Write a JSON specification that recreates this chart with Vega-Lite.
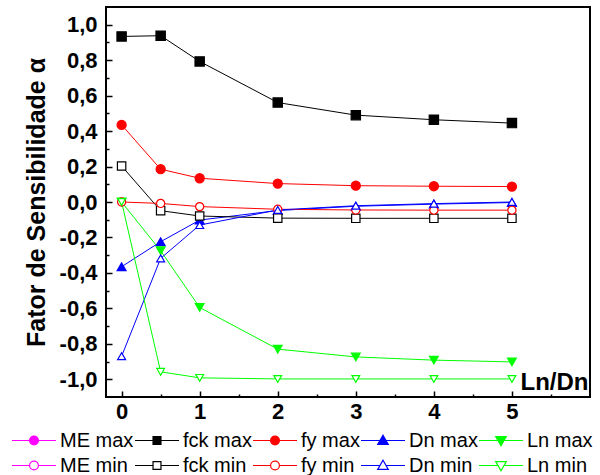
{
  "$schema": "https://vega.github.io/schema/vega-lite/v6.json",
  "width": 484,
  "height": 390,
  "autosize": "none",
  "padding": {"left": 106, "top": 7, "right": 10, "bottom": 78},
  "config": {
    "view": {"stroke": "black", "strokeWidth": 2},
    "font": "Liberation Sans"
  },
  "data": {
    "values": [
      {"x": 0, "y": 0.934, "series": "fck max"},
      {"x": 0.5, "y": 0.938, "series": "fck max"},
      {"x": 1, "y": 0.793, "series": "fck max"},
      {"x": 2, "y": 0.561, "series": "fck max"},
      {"x": 3, "y": 0.49, "series": "fck max"},
      {"x": 4, "y": 0.464, "series": "fck max"},
      {"x": 5, "y": 0.445, "series": "fck max"},
      {"x": 0, "y": 0.435, "series": "fy max"},
      {"x": 0.5, "y": 0.185, "series": "fy max"},
      {"x": 1, "y": 0.134, "series": "fy max"},
      {"x": 2, "y": 0.104, "series": "fy max"},
      {"x": 3, "y": 0.092, "series": "fy max"},
      {"x": 4, "y": 0.089, "series": "fy max"},
      {"x": 5, "y": 0.087, "series": "fy max"},
      {"x": 0, "y": -0.365, "series": "Dn max"},
      {"x": 0.5, "y": -0.224, "series": "Dn max"},
      {"x": 1, "y": -0.102, "series": "Dn max"},
      {"x": 2, "y": -0.048, "series": "Dn max"},
      {"x": 3, "y": -0.024, "series": "Dn max"},
      {"x": 4, "y": -0.012, "series": "Dn max"},
      {"x": 5, "y": -0.003, "series": "Dn max"},
      {"x": 0, "y": 0.0, "series": "Ln max"},
      {"x": 0.5, "y": -0.275, "series": "Ln max"},
      {"x": 1, "y": -0.595, "series": "Ln max"},
      {"x": 2, "y": -0.83, "series": "Ln max"},
      {"x": 3, "y": -0.874, "series": "Ln max"},
      {"x": 4, "y": -0.892, "series": "Ln max"},
      {"x": 5, "y": -0.902, "series": "Ln max"},
      {"x": 0, "y": 0.203, "series": "fck min"},
      {"x": 0.5, "y": -0.049, "series": "fck min"},
      {"x": 1, "y": -0.079, "series": "fck min"},
      {"x": 2, "y": -0.091, "series": "fck min"},
      {"x": 3, "y": -0.092, "series": "fck min"},
      {"x": 4, "y": -0.092, "series": "fck min"},
      {"x": 5, "y": -0.092, "series": "fck min"},
      {"x": 0, "y": 0.0, "series": "fy min"},
      {"x": 0.5, "y": -0.008, "series": "fy min"},
      {"x": 1, "y": -0.026, "series": "fy min"},
      {"x": 2, "y": -0.041, "series": "fy min"},
      {"x": 3, "y": -0.045, "series": "fy min"},
      {"x": 4, "y": -0.046, "series": "fy min"},
      {"x": 5, "y": -0.046, "series": "fy min"},
      {"x": 0, "y": -0.87, "series": "Dn min"},
      {"x": 0.5, "y": -0.318, "series": "Dn min"},
      {"x": 1, "y": -0.13, "series": "Dn min"},
      {"x": 2, "y": -0.045, "series": "Dn min"},
      {"x": 3, "y": -0.021, "series": "Dn min"},
      {"x": 4, "y": -0.009, "series": "Dn min"},
      {"x": 5, "y": 0.0, "series": "Dn min"},
      {"x": 0, "y": 0.0, "series": "Ln min"},
      {"x": 0.5, "y": -0.958, "series": "Ln min"},
      {"x": 1, "y": -0.992, "series": "Ln min"},
      {"x": 2, "y": -0.998, "series": "Ln min"},
      {"x": 3, "y": -0.998, "series": "Ln min"},
      {"x": 4, "y": -0.998, "series": "Ln min"},
      {"x": 5, "y": -0.998, "series": "Ln min"}
    ]
  },
  "resolve": {
    "axis": {"x": "independent", "y": "independent"},
    "scale": {"shape": "independent"},
    "legend": {"color": "independent", "fill": "independent", "shape": "independent"}
  },
  "layer": [
    {
      "mark": {"type": "line", "strokeWidth": 1},
      "encoding": {
        "x": {
          "field": "x", "type": "quantitative",
          "scale": {"domain": [-0.2, 6], "nice": false, "zero": false},
          "axis": {
            "orient": "bottom",
            "values": [0, 1, 2, 3, 4, 5],
            "format": "d",
            "tickSize": 6, "offset": -6,
            "tickColor": "black", "tickWidth": 1.5,
            "labelPadding": 4,
            "domain": false, "grid": false,
            "labelFont": "Liberation Sans", "labelFontSize": 22, "labelFontWeight": "bold", "labelColor": "black",
            "labelFlush": false, "labelOverlap": false,
            "title": "Ln/Dn",
            "titleFont": "Liberation Sans", "titleFontSize": 24, "titleFontWeight": "bold", "titleColor": "black",
            "titleX": 482, "titleY": -2, "titleAlign": "right", "titleBaseline": "alphabetic"
          }
        },
        "y": {
          "field": "y", "type": "quantitative",
          "scale": {"domain": [-1.1, 1.1], "nice": false, "zero": false},
          "axis": {
            "orient": "left",
            "values": [-1, -0.8, -0.6, -0.4, -0.2, 0, 0.2, 0.4, 0.6, 0.8, 1],
            "labelExpr": "replace(replace(format(datum.value, '.1f'), '.', ','), '\u2212', '-')",
            "tickSize": 6, "offset": -6,
            "tickColor": "black", "tickWidth": 1.5,
            "labelPadding": 9,
            "domain": false, "grid": false,
            "labelFont": "Liberation Sans", "labelFontSize": 22, "labelFontWeight": "bold", "labelColor": "black",
            "labelFlush": false, "labelOverlap": false,
            "title": "Fator de Sensibilidade α",
            "titleFont": "Liberation Sans", "titleFontSize": 25, "titleFontWeight": "bold", "titleColor": "black",
            "titleX": -76, "titleY": 195, "titleAngle": 270, "titleAlign": "center", "titleBaseline": "middle"
          }
        },
        "color": {
          "field": "series", "type": "nominal",
          "scale": {
            "domain": ["ME max", "fck max", "fy max", "Dn max", "Ln max", "ME min", "fck min", "fy min", "Dn min", "Ln min"],
            "range": ["#ff00ff", "#000000", "#ff0000", "#0000ff", "#00ff00", "#ff00ff", "#000000", "#ff0000", "#0000ff", "#00ff00"]
          },
          "legend": null
        }
      }
    },
    {
      "mark": {"type": "point", "strokeWidth": 1.2, "opacity": 1},
      "encoding": {
        "x": {
          "field": "x", "type": "quantitative",
          "axis": {
            "orient": "bottom",
            "values": [0.5, 1.5, 2.5, 3.5, 4.5, 5.5],
            "labels": false, "title": null,
            "tickSize": 3, "offset": -3, "tickColor": "black", "tickWidth": 1.5,
            "domain": false, "grid": false
          }
        },
        "y": {
          "field": "y", "type": "quantitative",
          "axis": {
            "orient": "left",
            "values": [-0.9, -0.7, -0.5, -0.3, -0.1, 0.1, 0.3, 0.5, 0.7, 0.9],
            "labels": false, "title": null,
            "tickSize": 3, "offset": -3, "tickColor": "black", "tickWidth": 1.5,
            "domain": false, "grid": false
          }
        },
        "color": {"field": "series", "type": "nominal", "legend": null},
        "shape": {
          "field": "series", "type": "nominal",
          "scale": {
            "domain": ["ME max", "fck max", "fy max", "Dn max", "Ln max", "ME min", "fck min", "fy min", "Dn min", "Ln min"],
            "range": ["circle", "square", "circle", "triangle-up", "triangle-down", "circle", "square", "circle", "triangle-up", "triangle-down"]
          },
          "legend": null
        },
        "fill": {
          "field": "series", "type": "nominal",
          "scale": {
            "domain": ["ME max", "fck max", "fy max", "Dn max", "Ln max", "ME min", "fck min", "fy min", "Dn min", "Ln min"],
            "range": ["#ff00ff", "#000000", "#ff0000", "#0000ff", "#00ff00", "#ffffff", "#ffffff", "#ffffff", "#ffffff", "#ffffff"]
          },
          "legend": null
        },
        "size": {
          "field": "series", "type": "nominal",
          "scale": {
            "domain": ["ME max", "fck max", "fy max", "Dn max", "Ln max", "ME min", "fck min", "fy min", "Dn min", "Ln min"],
            "range": [90, 60, 90, 120, 120, 90, 55, 90, 120, 120]
          },
          "legend": null
        }
      }
    },
    {
      "mark": {"type": "point", "strokeWidth": 1.2, "opacity": 0},
      "encoding": {
        "x": {"field": "x", "type": "quantitative", "axis": null},
        "y": {"field": "y", "type": "quantitative", "axis": null},
        "color": {
          "field": "series", "type": "nominal",
          "legend": {
            "orient": "none", "legendX": -95, "legendY": 421,
            "direction": "horizontal", "columns": 5, "title": null,
            "padding": 0, "columnPadding": 0, "rowPadding": 0, "clipHeight": 25,
            "symbolSize": 1936, "symbolStrokeWidth": 1.2, "symbolOpacity": 1,
            "labelOffset": 3, "labelFontSize": 20, "labelFont": "Liberation Sans", "labelColor": "black", "labelLimit": 200
          }
        },
        "shape": {
          "field": "series", "type": "nominal",
          "scale": {
            "domain": ["ME max", "fck max", "fy max", "Dn max", "Ln max", "ME min", "fck min", "fy min", "Dn min", "Ln min"],
            "range": [
              "M-1,0H1M-0.2,0A0.2,0.2,0,1,0,0.2,0A0.2,0.2,0,1,0,-0.2,0Z",
              "M-1,0H1M-0.18,-0.18H0.18V0.18H-0.18Z",
              "M-1,0H1M-0.2,0A0.2,0.2,0,1,0,0.2,0A0.2,0.2,0,1,0,-0.2,0Z",
              "M-1,0H1M0,-0.24L0.24,0.18H-0.24Z",
              "M-1,0H1M0,0.24L0.24,-0.18H-0.24Z",
              "M-1,0H-0.2M0.2,0H1M-0.2,0A0.2,0.2,0,1,0,0.2,0A0.2,0.2,0,1,0,-0.2,0Z",
              "M-1,0H-0.18M0.18,0H1M-0.18,-0.18H0.18V0.18H-0.18Z",
              "M-1,0H-0.2M0.2,0H1M-0.2,0A0.2,0.2,0,1,0,0.2,0A0.2,0.2,0,1,0,-0.2,0Z",
              "M-1,0H-0.14M0.14,0H1M0,-0.24L0.24,0.18H-0.24Z",
              "M-1,0H-0.14M0.14,0H1M0,0.24L0.24,-0.18H-0.24Z"
            ]
          },
          "legend": {
            "orient": "none", "legendX": -95, "legendY": 421,
            "direction": "horizontal", "columns": 5, "title": null,
            "padding": 0, "columnPadding": 0, "rowPadding": 0, "clipHeight": 25,
            "symbolSize": 1936, "symbolStrokeWidth": 1.2, "symbolOpacity": 1,
            "labelOffset": 3, "labelFontSize": 20, "labelFont": "Liberation Sans", "labelColor": "black", "labelLimit": 200
          }
        },
        "fill": {
          "field": "series", "type": "nominal",
          "legend": {
            "orient": "none", "legendX": -95, "legendY": 421,
            "direction": "horizontal", "columns": 5, "title": null,
            "padding": 0, "columnPadding": 0, "rowPadding": 0, "clipHeight": 25,
            "symbolSize": 1936, "symbolStrokeWidth": 1.2, "symbolOpacity": 1,
            "labelOffset": 3, "labelFontSize": 20, "labelFont": "Liberation Sans", "labelColor": "black", "labelLimit": 200
          }
        }
      }
    }
  ]
}
